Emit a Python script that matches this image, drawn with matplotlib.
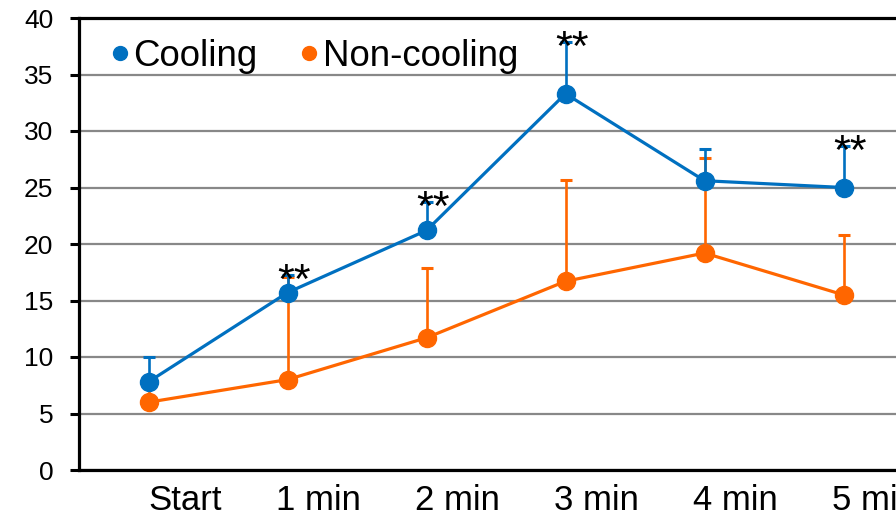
import matplotlib
matplotlib.use("Agg")
import matplotlib.pyplot as plt
from matplotlib.lines import Line2D
import numpy as np

plt.rcParams["font.family"] = ["Liberation Sans", "DejaVu Sans"]

categories = ["Start", "1 min", "2 min", "3 min", "4 min", "5 min"]
cooling = [7.8, 15.7, 21.2, 33.3, 25.6, 25.0]
cooling_top = [10.0, 17.3, 23.7, 37.9, 28.4, 28.7]
noncooling = [6.0, 8.0, 11.7, 16.7, 19.2, 15.5]
noncooling_top = [7.6, 17.1, 17.9, 25.7, 27.6, 20.8]
significant = [False, True, True, True, False, True]

BLUE = "#0070C0"
ORANGE = "#FF6600"

fig = plt.figure(figsize=(8.96, 5.16), dpi=100)
ax = fig.add_axes([79 / 896, 46 / 516, 834 / 896, 452 / 516])

x = np.arange(len(categories))

# non-cooling drawn first so cooling sits on top
for vals, tops, color in [(noncooling, noncooling_top, ORANGE),
                          (cooling, cooling_top, BLUE)]:
    vals = np.array(vals)
    up = np.array(tops) - vals
    ax.errorbar(x, vals, yerr=[np.zeros_like(up), up], fmt="none",
                ecolor=color, elinewidth=1.9, capsize=4.3, capthick=2.2,
                zorder=3)
    ax.plot(x, vals, color=color, linewidth=2.3, marker="o",
            markersize=13, zorder=4)

for i, flag in enumerate(significant):
    if flag:
        ax.annotate("**", (x[i], cooling_top[i]), xytext=(5, -13),
                    textcoords="offset points", ha="center", va="baseline",
                    fontsize=31, color="black", zorder=5)

ax.set_xlim(-0.5, len(categories) - 0.5)
ax.set_ylim(0, 40)
ax.set_yticks(range(0, 41, 5))
ax.set_xticks(x)
ax.set_xticklabels([])
# category labels sit right of each point, as in the source chart
for i, lab in enumerate(categories):
    ax.text(x[i] + 0.53, -0.088, lab, transform=ax.get_xaxis_transform(),
            ha="right", va="baseline", fontsize=25)

ax.tick_params(axis="x", length=0)
ax.tick_params(axis="y", labelsize=19, length=6.5, width=2.2,
               direction="out", pad=12)

ax.yaxis.grid(True, color="#888888", linewidth=1.6)
ax.set_axisbelow(True)
for side in ["left", "bottom", "top"]:
    ax.spines[side].set_linewidth(2.3)
    ax.spines[side].set_color("black")
ax.spines["right"].set_visible(False)

handles = [
    Line2D([], [], linestyle="none", marker="o", markersize=10, color=BLUE),
    Line2D([], [], linestyle="none", marker="o", markersize=10, color=ORANGE),
]
ax.legend(handles, ["Cooling", "Non-cooling"], ncol=2, loc="center left",
          bbox_to_anchor=(0.038, 0.915), frameon=False, fontsize=26.4,
          handlelength=0.5, handletextpad=0.12, columnspacing=1.15,
          borderpad=0, borderaxespad=0)

fig.savefig("out.png", dpi=100)
